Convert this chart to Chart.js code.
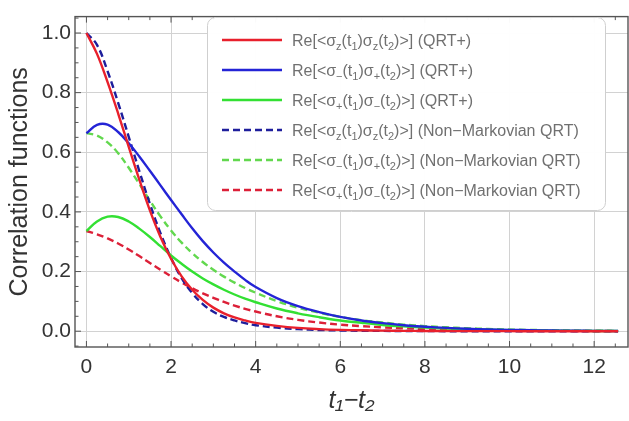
<!DOCTYPE html>
<html><head><meta charset="utf-8">
<script src="https://cdn.jsdelivr.net/npm/chart.js@4.4.1/dist/chart.umd.min.js"></script>
<style>html,body{margin:0;padding:0;background:#fff;}#wrap{width:629px;height:421px;}</style>
</head><body><div id="wrap"><canvas id="c" width="629" height="421"></canvas></div>
<script>
// ---- data ----
const tValues = [0,0.25,0.5,0.75,1,1.25,1.5,1.75,2,2.25,2.5,2.75,3,3.25,3.5,3.75,4,4.5,5,5.5,6,6.5,7,7.5,8,8.5,9,9.5,10,10.5,11,11.5,12,12.5,12.566];
const zzQRT = [1.0,0.93,0.835,0.73,0.618,0.508,0.405,0.316,0.243,0.184,0.139,0.105,0.079,0.06,0.046,0.036,0.028,0.018,0.011,0.007,0.0045,0.003,0.002,0.0012,0.0008,0.0005,0.0003,0.0002,0.0001,0,0,0,0,0,0];
const mpQRT = [0.664,0.692,0.693,0.668,0.63,0.586,0.538,0.489,0.44,0.392,0.345,0.302,0.264,0.23,0.2,0.172,0.148,0.111,0.084,0.064,0.048,0.036,0.027,0.02,0.015,0.011,0.008,0.006,0.0045,0.0033,0.0024,0.0017,0.0012,0.0009,0.0008];
const pmQRT = [0.336,0.368,0.384,0.383,0.368,0.344,0.316,0.285,0.254,0.226,0.2,0.177,0.157,0.139,0.123,0.109,0.097,0.076,0.06,0.047,0.036,0.028,0.021,0.016,0.012,0.009,0.007,0.005,0.0035,0.0025,0.0018,0.0012,0.0008,0.0005,0.0005];
const zzNM  = [1.0,0.96,0.872,0.766,0.652,0.537,0.427,0.329,0.246,0.178,0.128,0.091,0.065,0.048,0.036,0.027,0.02,0.012,0.007,0.004,0.0025,0.0015,0.001,0.0006,0.0003,0,0,0,0,0,0,0,0,0,0];
const mpNM  = [0.664,0.656,0.633,0.597,0.548,0.494,0.438,0.385,0.338,0.297,0.262,0.232,0.206,0.183,0.163,0.145,0.129,0.101,0.079,0.062,0.048,0.037,0.029,0.022,0.017,0.013,0.01,0.0075,0.0056,0.0042,0.0031,0.0023,0.0017,0.0012,0.0011];
const pmNM  = [0.336,0.325,0.311,0.294,0.274,0.252,0.229,0.206,0.184,0.163,0.144,0.127,0.112,0.098,0.086,0.075,0.066,0.05,0.038,0.029,0.022,0.017,0.013,0.01,0.0075,0.0056,0.0042,0.0031,0.0023,0.0017,0.0012,0.0009,0.0006,0.0004,0.0004];
const xTicks = [0,2,4,6,8,10,12];
const yTicks = [0,0.2,0.4,0.6,0.8,1.0];
const seriesLabels = [
  'Re[<σ_z(t_1)σ_z(t_2)>] (QRT+)',
  'Re[<σ_−(t_1)σ_+(t_2)>] (QRT+)',
  'Re[<σ_+(t_1)σ_−(t_2)>] (QRT+)',
  'Re[<σ_z(t_1)σ_z(t_2)>] (Non−Markovian QRT)',
  'Re[<σ_−(t_1)σ_+(t_2)>] (Non−Markovian QRT)',
  'Re[<σ_+(t_1)σ_−(t_2)>] (Non−Markovian QRT)'
];
const xTitle = 't₁−t₂';
const yTitle = 'Correlation functions';

// ---- build ----
const FONT = "'Liberation Sans', Arial, sans-serif";
const toXY = arr => tValues.map((t,i)=>({x:t,y:arr[i]}));
const styles = [
  {c:'#e8202c', d:[]},
  {c:'#2424d6', d:[]},
  {c:'#33e033', d:[]},
  {c:'#1e1e9c', d:[7,4]},
  {c:'#62d84e', d:[7,4]},
  {c:'#dc2038', d:[7,4]}
];
const seriesData = [zzQRT, mpQRT, pmQRT, zzNM, mpNM, pmNM];
const datasets = seriesData.map((arr,i)=>({
  label: seriesLabels[i].replace(/_/g,''),
  data: toXY(arr),
  borderColor: styles[i].c,
  borderDash: styles[i].d,
  borderWidth: 2.4,
  pointRadius: 0,
  fill: false,
  tension: 0.4
}));

function parseRuns(s){
  const runs=[]; let cur='';
  for(let i=0;i<s.length;i++){
    if(s[i]==='_' && i+1<s.length){ if(cur){runs.push({t:cur,sub:false});cur='';} runs.push({t:s[i+1],sub:true}); i++; }
    else cur+=s[i];
  }
  if(cur) runs.push({t:cur,sub:false});
  return runs;
}

const framePlugin = {
  id:'frame',
  afterDatasetsDraw(chart){
    const {ctx, chartArea:a, scales:{x,y}} = chart;
    ctx.save();
    ctx.strokeStyle='#555'; ctx.lineWidth=1.4;
    ctx.strokeRect(a.left, a.top, a.right-a.left, a.bottom-a.top);
    ctx.lineWidth=1;
    ctx.beginPath();
    for(let v=0; v<=12.8; v+=0.5){
      const px=x.getPixelForValue(v); const major = Math.abs(v/2-Math.round(v/2))<1e-6;
      const L = major?6:3.5;
      ctx.moveTo(px,a.bottom); ctx.lineTo(px,a.bottom-L);
      ctx.moveTo(px,a.top); ctx.lineTo(px,a.top+L);
    }
    for(let k=-1; k<=21; k++){
      const v=k*0.05; if(v<y.min||v>y.max) continue;
      const py=y.getPixelForValue(v); const major = k%4===0;
      const L = major?6:3.5;
      ctx.moveTo(a.left,py); ctx.lineTo(a.left+L,py);
    }
    ctx.stroke();
    ctx.restore();
  }
};

const legendPlugin = {
  id:'texLegend',
  afterDraw(chart){
    const ctx=chart.ctx;
    const bx=207.5, by=17.5, bw=398, bh=193, r=8;
    ctx.save();
    ctx.beginPath();
    ctx.roundRect(bx,by,bw,bh,r);
    ctx.fillStyle='rgba(255,255,255,0.97)'; ctx.fill();
    ctx.strokeStyle='#cfcfcf'; ctx.lineWidth=1; ctx.stroke();
    chart.data.datasets.forEach((ds,i)=>{
      const yy = by + 22.5 + i*30;
      ctx.beginPath();
      ctx.setLineDash(ds.borderDash||[]);
      ctx.strokeStyle=ds.borderColor; ctx.lineWidth=2.4;
      ctx.moveTo(222,yy); ctx.lineTo(282,yy); ctx.stroke();
      ctx.setLineDash([]);
      let xx=292;
      ctx.fillStyle='#707070'; ctx.textBaseline='alphabetic'; ctx.textAlign='left';
      parseRuns(seriesLabels[i]).forEach(run=>{
        ctx.font = (run.sub? '11px ':'16px ')+FONT;
        ctx.fillText(run.t, xx, yy + (run.sub?9.5:5.5));
        xx += ctx.measureText(run.t).width;
      });
    });
    ctx.restore();
  }
};

new Chart(document.getElementById('c'), {
  type:'line',
  data:{datasets},
  options:{
    responsive:false, animation:false, devicePixelRatio:1,
    layout:{padding:{top:4,right:1,left:0,bottom:0}},
    plugins:{legend:{display:false}, tooltip:{enabled:false}},
    scales:{
      x:{type:'linear', min:-0.27, max:12.8,
        afterBuildTicks:s=>{s.ticks=xTicks.map(v=>({value:v}));},
        afterFit:s=>{s.height=74;},
        ticks:{font:{family:FONT,size:21}, color:'#333', padding:8, maxRotation:0, autoSkip:false, callback:v=>String(v)},
        grid:{color:'#d2d2d2', drawTicks:false},
        border:{display:false},
        title:{display:true, text:xTitle, color:'#333', font:{family:FONT,size:25,style:'italic'}, padding:{top:0,bottom:5}}
      },
      y:{type:'linear', min:-0.053, max:1.055,
        afterBuildTicks:s=>{s.ticks=yTicks.map(v=>({value:v}));},
        afterFit:s=>{s.width=75;},
        ticks:{font:{family:FONT,size:21}, color:'#333', padding:4, callback:v=>Number(v).toFixed(1)},
        grid:{color:'#d2d2d2', drawTicks:false},
        border:{display:false},
        title:{display:true, text:yTitle, color:'#333', font:{family:FONT,size:25}, padding:{top:5,bottom:0}}
      }
    }
  },
  plugins:[framePlugin, legendPlugin]
});
</script></body></html>
